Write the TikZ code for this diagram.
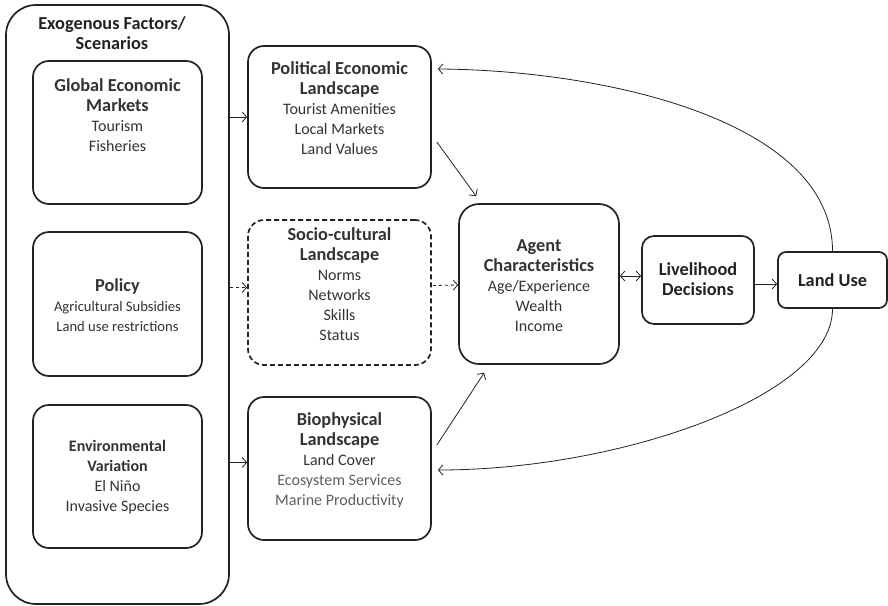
\documentclass[tikz,border=0pt]{standalone}
\usepackage{fontspec}
\setmainfont{Carlito}
\usetikzlibrary{arrows.meta,calc,positioning}

\definecolor{ink}{HTML}{222222}
\definecolor{itemgray}{HTML}{333333}
\definecolor{lightitem}{HTML}{5E5E5E}

\newcommand{\boxhead}[1]{{\fontsize{18.3}{21.5}\selectfont\bfseries #1}}

\tikzset{
  box/.style={draw=ink, line width=1.7pt, rounded corners=16pt, inner sep=0pt},
  dashbox/.style={box, dashed, dash pattern=on 5pt off 3pt},
  txt/.style={align=center, text=itemgray, font=\fontsize{16}{20}\selectfont},
  arr/.style={draw=ink, line width=0.8pt, -{Straight Barb[length=4.5pt,width=10pt]}},
}

\begin{document}
\begin{tikzpicture}[x=1pt, y=-1pt]
\useasboundingbox (0,0) rectangle (888,605);

% exogenous block
\node[box, rounded corners=30pt, minimum width=223pt, minimum height=599pt] (exo) at (117.5,304.5) {};
\node[txt, text=ink] (exotxt) at (112,33) {\boxhead{Exogenous Factors/}\\ \boxhead{Scenarios}};

\node[box, minimum width=169pt, minimum height=143pt] (global) at (117.5,132.5) {};
\node[txt] (globaltxt) at (117.5,115) {\boxhead{Global Economic}\\ \boxhead{Markets}\\ Tourism\\ Fisheries};

\node[box, minimum width=169pt, minimum height=144pt] (policy) at (117.5,304) {};
\node[txt] (policytxt) at (117.5,305) {\boxhead{Policy}\\ {\fontsize{14.6}{20}\selectfont Agricultural Subsidies}\\ {\fontsize{14.6}{20}\selectfont Land use restrictions}};

\node[box, minimum width=169pt, minimum height=143pt] (env) at (117.5,476.5) {};
\node[txt] (envtxt) at (117.5,477) {{\fontsize{16}{19}\selectfont\bfseries Environmental}\\ {\fontsize{16}{19}\selectfont\bfseries Variation}\\ El Niño\\ Invasive Species};

% landscapes
\node[box, minimum width=183pt, minimum height=142pt] (political) at (339.5,117) {};
\node[txt] (politicaltxt) at (339.5,108.5) {\boxhead{Political Economic}\\ \boxhead{Landscape}\\ Tourist Amenities\\ Local Markets\\ Land Values};

\node[dashbox, minimum width=183pt, minimum height=145pt] (socio) at (339.5,292.5) {};
\node[txt] (sociotxt) at (339.5,284) {\boxhead{Socio-cultural}\\ \boxhead{Landscape}\\ Norms\\ Networks\\ Skills\\ Status};

\node[box, minimum width=183pt, minimum height=143pt] (bio) at (339.5,468.5) {};
\node[txt] (biotxt) at (339.5,460) {\boxhead{Biophysical}\\ \boxhead{Landscape}\\ Land Cover\\ \textcolor{lightitem}{Ecosystem Services}\\ \textcolor{lightitem}{Marine Productivity}};

% agents and outcomes
\node[box, rounded corners=20pt, minimum width=160pt, minimum height=160pt] (agent) at (539,284) {};
\node[txt] (agenttxt) at (539,285.5) {\boxhead{Agent}\\ \boxhead{Characteristics}\\ Age/Experience\\ Wealth\\ Income};

\node[box, rounded corners=12pt, minimum width=112pt, minimum height=88pt] (liveli) at (698,280) {};
\node[txt, text=ink] (livelitxt) at (698,279) {\boxhead{Livelihood}\\ \boxhead{Decisions}};

\node[box, rounded corners=8pt, minimum width=109pt, minimum height=56pt] (landuse) at (832.5,280) {};
\node[txt, text=ink] (landusetxt) at (832.5,280) {\boxhead{Land Use}};

% connectors
\draw[arr] (exo.east |- political.west) -- (political.west);
\draw[arr, dashed] ($(exo.east |- socio.west)+(0,-5)$) -- ($(socio.west)+(0,-5)$);
\draw[arr] ($(exo.east |- bio.west)+(0,-6)$) -- ($(bio.west)+(0,-6)$);

\draw[arr] ($(political.east)+(5,25)$) -- ($(agent.north west)+(18,-7)$);
\draw[arr, dashed] ($(socio.east)+(1,-7)$) -- ($(agent.west)+(0,1)$);
\draw[arr] ($(bio.east)+(5,-23.5)$) -- ($(agent.south west)+(26,8)$);

\draw[arr, {Straight Barb[length=4.5pt,width=10pt]}-{Straight Barb[length=4.5pt,width=10pt]}] ($(agent.east)+(0,-8)$) -- ($(liveli.west)+(0,-4)$);
\draw[arr] ($(liveli.east)+(0,4)$) -- ($(landuse.west)+(0,4)$);

% feedback
\draw[arr] (landuse.north) .. controls +(0,-132) and +(163,1) .. ($(political.east)+(6,-48)$);
\draw[arr] (landuse.south) .. controls +(0,87) and +(183,0) .. ($(bio.east)+(6,1.5)$);
\end{tikzpicture}
\end{document}
